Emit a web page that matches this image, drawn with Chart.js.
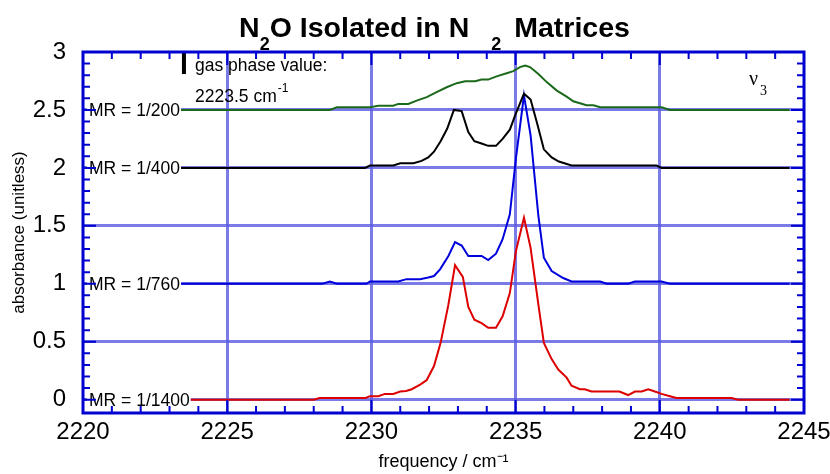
<!DOCTYPE html>
<html>
<head>
<meta charset="utf-8">
<script src="https://cdn.jsdelivr.net/npm/chart.js@4"></script>
<style>
  body { margin: 0; background: #fff; }
  canvas { display: block; }
</style>
</head>
<body>
<canvas id="myChart" width="830" height="474"></canvas>
<script>
// ---------------- data ----------------
// MR = 1/200 (offset 2.5)
let freq200 = [2223.4, 2228.56, 2228.8, 2229.95, 2230.24, 2230.76, 2230.93, 2231.28, 2231.57, 2231.92, 2232.26, 2232.61, 2232.96, 2233.25, 2233.6, 2233.82, 2234.05, 2234.34, 2234.69, 2234.92, 2235.15, 2235.33, 2235.5, 2235.79, 2236.08, 2236.43, 2236.77, 2237.0, 2237.46, 2237.7, 2237.93, 2240.06, 2240.35, 2244.5];
let abs200  = [2.5, 2.5, 2.523, 2.523, 2.537, 2.537, 2.552, 2.552, 2.58, 2.61, 2.653, 2.696, 2.731, 2.748, 2.748, 2.762, 2.762, 2.79, 2.817, 2.835, 2.87, 2.883, 2.87, 2.81, 2.74, 2.667, 2.615, 2.575, 2.54, 2.54, 2.523, 2.523, 2.5, 2.5];

// MR = 1/400 (offset 2)
let freq400 = [2223.4, 2229.78, 2229.95, 2230.76, 2231.0, 2231.46, 2231.74, 2231.97, 2232.17, 2232.4, 2232.63, 2232.86, 2233.13, 2233.36, 2233.57, 2233.82, 2234.05, 2234.32, 2234.55, 2234.8, 2235.01, 2235.29, 2235.52, 2235.75, 2235.98, 2236.25, 2236.5, 2236.94, 2239.89, 2240.06, 2244.5];
let abs400  = [2, 2, 2.02, 2.02, 2.04, 2.04, 2.06, 2.09, 2.14, 2.23, 2.34, 2.5, 2.49, 2.31, 2.23, 2.21, 2.19, 2.19, 2.25, 2.33, 2.47, 2.64, 2.59, 2.38, 2.16, 2.09, 2.055, 2.02, 2.02, 2.0, 2.0];

// MR = 1/760 (offset 1)
let freq760 = [2223.4, 2228.3, 2228.56, 2228.8, 2229.83, 2229.95, 2230.93, 2231.22, 2231.69, 2231.97, 2232.17, 2232.38, 2232.67, 2232.9, 2233.13, 2233.36, 2233.82, 2234.05, 2234.32, 2234.55, 2234.8, 2235.01, 2235.29, 2235.52, 2235.79, 2235.98, 2236.25, 2236.65, 2236.94, 2237.93, 2238.16, 2238.9, 2239.14, 2240.06, 2240.35, 2244.5];
let abs760  = [1, 1, 1.02, 1, 1, 1.02, 1.02, 1.04, 1.04, 1.055, 1.067, 1.125, 1.24, 1.36, 1.33, 1.24, 1.24, 1.205, 1.26, 1.385, 1.6, 2.08, 2.625, 2.28, 1.585, 1.225, 1.11, 1.05, 1.02, 1.02, 1.0, 1.0, 1.02, 1.02, 1.0, 1.0];

// MR = 1/1400 (no offset)
let freq1400 = [2223.4, 2228.0, 2228.2, 2229.8, 2229.95, 2230.24, 2230.47, 2230.76, 2231.0, 2231.2, 2231.4, 2231.69, 2231.92, 2232.17, 2232.4, 2232.67, 2232.9, 2233.17, 2233.36, 2233.57, 2233.82, 2234.05, 2234.32, 2234.55, 2234.8, 2235.01, 2235.29, 2235.52, 2235.79, 2235.98, 2236.25, 2236.48, 2236.77, 2236.94, 2237.23, 2237.4, 2237.63, 2238.6, 2238.9, 2239.14, 2239.37, 2239.6, 2239.83, 2240.06, 2240.35, 2240.58, 2242.49, 2242.72, 2244.5];
let abs1400  = [0, 0, 0.015, 0.015, 0.03, 0.03, 0.05, 0.05, 0.07, 0.075, 0.09, 0.13, 0.17, 0.29, 0.49, 0.82, 1.16, 1.06, 0.80, 0.69, 0.66, 0.62, 0.62, 0.72, 0.92, 1.28, 1.57, 1.31, 0.82, 0.49, 0.35, 0.26, 0.19, 0.12, 0.09, 0.09, 0.07, 0.07, 0.04, 0.07, 0.07, 0.09, 0.07, 0.05, 0.03, 0.015, 0.015, 0, 0];

// gas phase marker
let gasFreq = [2223.5, 2223.5];
let gasAbs  = [3, 2.81];

let mrLabels    = ['MR = 1/200', 'MR = 1/400', 'MR = 1/760', 'MR = 1/1400'];
let mrBaselines = [2.5, 2, 1, 0];

let xTicks = [2220, 2225, 2230, 2235, 2240, 2245];
let yTicks = [0, 0.5, 1, 1.5, 2, 2.5, 3];
let yLabels = ['0', '0.5', '1', '1.5', '2', '2.5', '3'];

const axisBlue = '#0000d0';
const gridBlue = 'rgba(90,90,225,0.8)';
const sans = '"Liberation Sans", Arial, Helvetica, sans-serif';

function pairs(xs, ys)
{
    return xs.map((v, i) => ({x: v, y: ys[i]}));
}

function series(xs, ys, color, width)
{
    return {
        data: pairs(xs, ys),
        borderColor: color,
        backgroundColor: color,
        borderWidth: width,
        pointRadius: 0,
        showLine: true,
        tension: 0
    };
}

// title with the odd subscript placement of the original
const titlePlugin = {
    id: 'titlePlugin',
    afterDraw(chart)
    {
        const ctx = chart.ctx;
        const big = 'bold 28.5px ' + sans, small = 'bold 18px ' + sans;
        const parts = [
            {t: 'N', f: big, dy: 0, gap: 0},
            {t: '2', f: small, dy: 13, gap: 0},
            {t: 'O Isolated in N', f: big, dy: 0, gap: 0},
            {t: '2', f: small, dy: 13, gap: 22},
            {t: 'Matrices', f: big, dy: 0, gap: 13}
        ];
        ctx.save();
        let total = 0;
        parts.forEach(p => { ctx.font = p.f; p.w = ctx.measureText(p.t).width; total += p.w + p.gap; });
        let x = 434.5 - total / 2;
        ctx.fillStyle = '#000';
        ctx.textBaseline = 'alphabetic';
        parts.forEach(p => {
            x += p.gap;
            ctx.font = p.f;
            ctx.fillText(p.t, x, 37 + p.dy);
            x += p.w;
        });
        ctx.restore();
    }
};

// frame, inward ticks, text notes
const framePlugin = {
    id: 'framePlugin',
    afterDatasetsDraw(chart)
    {
        const {ctx, chartArea: a, scales: {x, y}} = chart;
        ctx.save();

        // series labels with white boxes
        ctx.font = '17.5px ' + sans;
        ctx.textBaseline = 'middle';
        mrLabels.forEach((t, i) => {
            const py = y.getPixelForValue(mrBaselines[i]);
            const w = ctx.measureText(t).width;
            ctx.fillStyle = '#fff';
            ctx.fillRect(a.left + 4, py - 9, w + 3, 18);
            ctx.fillStyle = '#000';
            ctx.fillText(t, a.left + 6, py + 1);
        });

        // ticks
        ctx.strokeStyle = axisBlue;
        ctx.lineWidth = 2;
        ctx.beginPath();
        for (let v = 2220; v <= 2245; v++)
        {
            const px = x.getPixelForValue(v);
            const len = v % 5 === 0 ? 13 : 7;
            ctx.moveTo(px, a.bottom); ctx.lineTo(px, a.bottom - len);
            ctx.moveTo(px, a.top); ctx.lineTo(px, a.top + len);
        }
        for (let k = 0; k <= 30; k++)
        {
            const py = y.getPixelForValue(k / 10);
            const len = k % 5 === 0 ? 13 : 7;
            ctx.moveTo(a.left, py); ctx.lineTo(a.left + len, py);
            ctx.moveTo(a.right, py); ctx.lineTo(a.right - len, py);
        }
        ctx.stroke();

        ctx.lineWidth = 3;
        ctx.strokeRect(a.left, a.top, a.right - a.left, a.bottom - a.top);

        // notes
        ctx.fillStyle = '#000';
        ctx.font = '17.5px ' + sans;
        ctx.textBaseline = 'middle';
        ctx.fillText('gas phase value:', 195, 66);
        ctx.fillText('2223.5 cm', 195, 97);
        let w = ctx.measureText('2223.5 cm').width;
        ctx.font = '12px ' + sans;
        ctx.fillText('-1', 195 + w + 1, 89);

        ctx.textBaseline = 'alphabetic';
        ctx.font = '20px "Liberation Serif", "Times New Roman", serif';
        ctx.fillText('\u03BD', 749, 84.5);
        ctx.font = '14px "Liberation Serif", "Times New Roman", serif';
        ctx.fillText('3', 760, 95);
        ctx.restore();
    }
};

let chart_1 = new Chart(document.getElementById('myChart').getContext('2d'),
{
    type: 'scatter',
    data:
    {
        datasets:
        [
            series(gasFreq, gasAbs, '#000000', 4),
            series(freq200, abs200, '#1b6a1b', 2),
            series(freq400, abs400, '#000000', 2),
            series(freq760, abs760, '#0000dd', 2),
            series(freq1400, abs1400, '#dd0000', 2)
        ]
    },
    options:
    {
        responsive: false,
        animation: false,
        layout: { padding: { top: 52, right: 26, left: 0, bottom: 0 } },
        plugins:
        {
            legend: { display: false },
            tooltip: { enabled: false },
            title: { display: false }
        },
        scales:
        {
            x:
            {
                type: 'linear',
                min: 2220,
                max: 2245,
                afterBuildTicks: s => { s.ticks = xTicks.map(v => ({value: v})); },
                afterFit: s => { s.height = 61; s.paddingLeft = 0; s.paddingRight = 0; },
                ticks:
                {
                    color: '#000',
                    font: { size: 24, family: sans },
                    padding: 5,
                    maxRotation: 0,
                    callback: v => String(v)
                },
                grid:
                {
                    drawTicks: false,
                    lineWidth: 3,
                    color: c => (c.tick && (c.tick.value === 2220 || c.tick.value === 2245)) ? 'rgba(0,0,0,0)' : gridBlue
                },
                border: { display: false },
                title:
                {
                    display: true,
                    text: 'frequency / cm\u207B\u00B9',
                    color: '#000',
                    font: { size: 18, family: sans },
                    padding: { top: 0, bottom: 1 }
                }
            },
            y:
            {
                type: 'linear',
                min: -0.115,
                max: 3,
                afterBuildTicks: s => { s.ticks = yTicks.map(v => ({value: v})); },
                afterFit: s => { s.width = 83; s.paddingTop = 0; s.paddingBottom = 0; },
                ticks:
                {
                    color: '#000',
                    font: { size: 24, family: sans },
                    padding: 17,
                    callback: (v) => yLabels[yTicks.indexOf(v)]
                },
                grid:
                {
                    drawTicks: false,
                    lineWidth: 3,
                    color: c => (c.tick && c.tick.value === 3) ? 'rgba(0,0,0,0)' : gridBlue
                },
                border: { display: false },
                title:
                {
                    display: true,
                    text: 'absorbance (unitless)',
                    color: '#000',
                    font: { size: 17, family: sans },
                    padding: { top: 9, bottom: 0 }
                }
            }
        }
    },
    plugins: [titlePlugin, framePlugin]
});
</script>
</body>
</html>
